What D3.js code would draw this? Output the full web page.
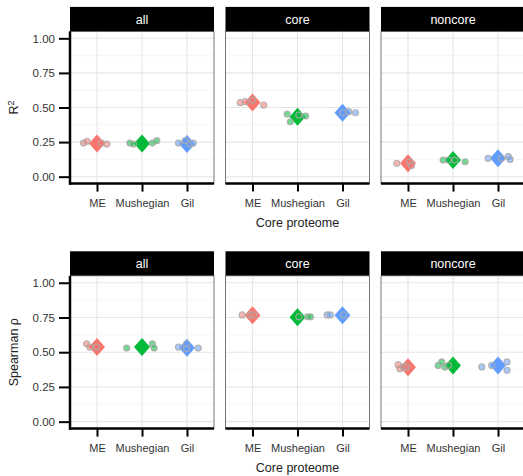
<!DOCTYPE html>
<html>
<head>
<meta charset="utf-8">
<script src="https://cdn.jsdelivr.net/npm/d3@7"></script>
<style>
  body { margin: 0; background: #fff; }
  svg { display: block; font-family: "Liberation Sans", Arial, Helvetica, sans-serif; }
</style>
</head>
<body>
<div id="chart"></div>
<script>
const facets = ["all", "core", "noncore"];
const methods = ["ME", "Mushegian", "Gil"];
const colors = ["#F8766D", "#00BA38", "#619CFF"];
const yTicks = [0, 0.25, 0.5, 0.75, 1];

// means per facet (rows) x method (cols)
const r2Mean = [[0.24, 0.24, 0.236], [0.536, 0.434, 0.462], [0.097, 0.12, 0.133]];
const rhoMean = [[0.537, 0.537, 0.532], [0.766, 0.752, 0.766], [0.392, 0.405, 0.405]];

// individual points: [facet, method, jitter, value]
const r2Points = [
  [0, 0, -0.30, 0.243], [0, 0, -0.22, 0.256], [0, 0, 0.10, 0.243], [0, 0, 0.22, 0.236],
  [0, 1, -0.27, 0.243], [0, 1, -0.19, 0.236], [0, 1, 0.23, 0.243], [0, 1, 0.33, 0.26],
  [0, 2, -0.19, 0.243], [0, 2, -0.04, 0.26], [0, 2, 0.07, 0.236], [0, 2, 0.14, 0.243],
  [1, 0, -0.27, 0.535], [1, 0, -0.16, 0.542], [1, 0, 0.0, 0.554], [1, 0, 0.25, 0.518],
  [1, 1, -0.23, 0.453], [1, 1, -0.16, 0.397], [1, 1, 0.03, 0.445], [1, 1, 0.18, 0.438],
  [1, 2, 0.01, 0.462], [1, 2, 0.14, 0.47], [1, 2, 0.29, 0.462],
  [2, 0, -0.25, 0.097], [2, 0, 0.04, 0.105], [2, 0, 0.08, 0.08],
  [2, 1, -0.22, 0.12], [2, 1, -0.10, 0.12], [2, 1, 0.04, 0.12], [2, 1, 0.27, 0.108],
  [2, 2, -0.22, 0.133], [2, 2, 0.08, 0.133], [2, 2, 0.23, 0.145], [2, 2, 0.27, 0.125]
];
const rhoPoints = [
  [0, 0, -0.23, 0.561], [0, 0, -0.16, 0.537], [0, 0, -0.01, 0.537],
  [0, 1, -0.34, 0.53], [0, 1, 0.23, 0.561], [0, 1, 0.27, 0.53],
  [0, 2, -0.19, 0.537], [0, 2, -0.01, 0.561], [0, 2, -0.01, 0.525], [0, 2, 0.25, 0.53],
  [1, 0, -0.23, 0.768], [1, 0, -0.04, 0.768], [1, 0, 0.03, 0.768],
  [1, 1, 0.03, 0.755], [1, 1, 0.22, 0.755], [1, 1, 0.29, 0.755],
  [1, 2, -0.34, 0.768], [1, 2, -0.27, 0.768], [1, 2, 0.03, 0.768],
  [2, 0, -0.22, 0.41], [2, 0, -0.18, 0.381], [2, 0, -0.10, 0.394], [2, 0, -0.03, 0.394],
  [2, 1, -0.33, 0.405], [2, 1, -0.25, 0.43], [2, 1, -0.18, 0.394], [2, 1, -0.10, 0.405],
  [2, 2, -0.36, 0.394], [2, 2, -0.14, 0.405], [2, 2, 0.20, 0.43], [2, 2, 0.20, 0.37]
];

const width = 523, height = 476;
const panelLeft = 70, panelW = 144, panelGap = 11.5;
const stripH = 24.5;

const svg = d3.select("#chart").append("svg")
  .attr("width", width)
  .attr("height", height);

const x = d3.scalePoint().domain(methods).range([0, panelW]).padding(0.6);

function drawRow(top, bottom, means, points, yTitle, isR2) {
  const y = d3.scaleLinear().domain([-0.05, 1.05]).range([bottom, top]);
  const minorTicks = [0.125, 0.375, 0.625, 0.875];

  facets.forEach((f, fi) => {
    const px = panelLeft + fi * (panelW + panelGap);
    const g = svg.append("g").attr("transform", `translate(${px},0)`);

    // strip
    g.append("rect")
      .attr("x", 0).attr("y", top - stripH)
      .attr("width", panelW).attr("height", stripH)
      .attr("fill", "#000");
    g.append("text")
      .attr("x", panelW / 2).attr("y", top - stripH / 2)
      .attr("dy", "0.35em")
      .attr("text-anchor", "middle")
      .attr("fill", "#fff")
      .style("font-size", "12.5px")
      .text(f);

    // grid
    g.selectAll(".minor").data(minorTicks).join("line")
      .attr("x1", 0).attr("x2", panelW)
      .attr("y1", d => y(d)).attr("y2", d => y(d))
      .attr("stroke", "#f2f2f2").attr("stroke-width", 0.6);
    g.selectAll(".major").data(yTicks).join("line")
      .attr("x1", 0).attr("x2", panelW)
      .attr("y1", d => y(d)).attr("y2", d => y(d))
      .attr("stroke", "#e6e6e6").attr("stroke-width", 1.1);
    g.selectAll(".vgrid").data(methods).join("line")
      .attr("x1", d => x(d)).attr("x2", d => x(d))
      .attr("y1", top).attr("y2", bottom)
      .attr("stroke", "#e6e6e6").attr("stroke-width", 1.1);

    // border
    g.append("rect")
      .attr("x", 0).attr("y", top)
      .attr("width", panelW).attr("height", bottom - top)
      .attr("fill", "none")
      .attr("stroke", "#555").attr("stroke-width", 0.8);

    // mean diamonds
    g.selectAll(".mean").data(means[fi]).join("path")
      .attr("d", (d, i) => {
        const cx = x(methods[i]), cy = y(d);
        return `M${cx},${cy - 9}L${cx + 8},${cy}L${cx},${cy + 9}L${cx - 8},${cy}Z`;
      })
      .attr("fill", (d, i) => colors[i]);

    // points
    g.selectAll(".pt").data(points.filter(p => p[0] === fi)).join("circle")
      .attr("cx", d => x(methods[d[1]]) + d[2] * x.step())
      .attr("cy", d => y(d[3]))
      .attr("r", 3)
      .attr("fill", d => colors[d[1]])
      .attr("fill-opacity", 0.55)
      .attr("stroke", "#aaa")
      .attr("stroke-opacity", 0.85)
      .attr("stroke-width", 1.2);

    // x axis
    const xAxis = g.append("g")
      .attr("transform", `translate(0,${bottom})`)
      .call(d3.axisBottom(x).tickSize(8).tickPadding(8));
    xAxis.select(".domain").remove();
    xAxis.selectAll(".tick line").attr("stroke", "#000").attr("stroke-width", 2);
    xAxis.selectAll("text").attr("fill", "#333").style("font-size", "11px");
    g.append("line")
      .attr("x1", 0).attr("x2", panelW)
      .attr("y1", bottom).attr("y2", bottom)
      .attr("stroke", "#000").attr("stroke-width", 2.5);

    if (fi === 0) {
      const yAxis = g.append("g")
        .call(d3.axisLeft(y).tickValues(yTicks).tickFormat(d3.format(".2f")).tickSize(10).tickPadding(5));
      yAxis.select(".domain").remove();
      yAxis.selectAll(".tick line").attr("stroke", "#000").attr("stroke-width", 2).attr("transform", "translate(-1,0)");
      yAxis.selectAll("text").attr("fill", "#333").style("font-size", "11.5px");
      g.append("line")
        .attr("x1", 0).attr("x2", 0)
        .attr("y1", top).attr("y2", bottom + 1.25)
        .attr("stroke", "#000").attr("stroke-width", 2.5);
    }
  });

  // x axis title
  svg.append("text")
    .attr("x", panelLeft + (3 * panelW + 2 * panelGap) / 2)
    .attr("y", bottom + 43)
    .attr("text-anchor", "middle")
    .attr("fill", "#222")
    .style("font-size", "12.5px")
    .text("Core proteome");

  // y axis title
  const t = svg.append("text")
    .attr("transform", `translate(18,${(top + bottom) / 2}) rotate(-90)`)
    .attr("text-anchor", "middle")
    .attr("fill", "#222")
    .style("font-size", "12.5px");
  if (isR2) {
    t.append("tspan").text("R");
    t.append("tspan").attr("dy", "-0.45em").style("font-size", "9px").text("2");
  } else {
    t.text(yTitle);
  }
}

drawRow(31.4, 183.6, r2Mean, r2Points, "R2", true);
drawRow(275.8, 428.6, rhoMean, rhoPoints, "Spearman \u03C1", false);
</script>
</body>
</html>
